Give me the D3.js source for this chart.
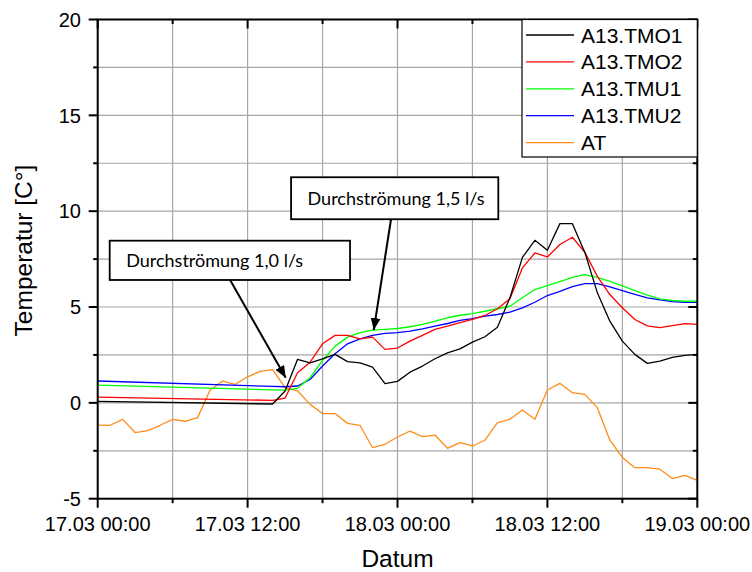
<!DOCTYPE html>
<html>
<head>
<meta charset="utf-8">
<script src="https://cdn.jsdelivr.net/npm/d3@7"></script>
<style>
  html, body { margin: 0; padding: 0; background: #fff; }
  svg { display: block; }
</style>
</head>
<body>
<svg id="chart" width="752" height="572"></svg>
<script>
// Hours since 17.03 00:00
const sensorHours = [0, 14, 15, 16, 17, 18, 19, 20, 21, 22, 23, 24, 25, 26, 27, 28, 29, 30, 31,
  32, 33, 34, 35, 36, 37, 38, 39, 40, 41, 42, 43, 44, 45, 46, 47, 48];
const atHours = [0, 1, 2, 3, 4, 5, 6, 7, 8, 9, 10, 11, 12, 13, 14, 15, 16, 17, 18, 19, 20, 21, 22, 23,
  24, 25, 26, 27, 28, 29, 30, 31, 32, 33, 34, 35, 36, 37, 38, 39, 40, 41, 42, 43, 44, 45, 46, 47, 48];

// Temperatures [°C]
const tmo1 = [0.08, -0.06, 0.62, 2.27, 2.09, 2.30, 2.53, 2.15, 2.09, 1.87, 1.00, 1.12, 1.60, 1.92, 2.30,
  2.61, 2.82, 3.17, 3.45, 3.95, 5.48, 7.59, 8.48, 7.96, 9.35, 9.35, 7.85, 5.74, 4.26, 3.22, 2.53, 2.06,
  2.18, 2.37, 2.48, 2.53];
const tmo2 = [0.30, 0.13, 0.25, 1.57, 2.12, 3.08, 3.52, 3.52, 3.34, 3.43, 2.79, 2.86, 3.22, 3.52, 3.83,
  4.00, 4.18, 4.35, 4.56, 4.91, 5.43, 7.04, 7.82, 7.61, 8.26, 8.64, 7.85, 6.60, 5.65, 4.96, 4.35, 4.02,
  3.92, 4.03, 4.13, 4.09];
const tmu1 = [0.93, 0.68, 0.66, 0.76, 1.31, 2.21, 2.96, 3.43, 3.66, 3.79, 3.83, 3.88, 3.97, 4.09, 4.26,
  4.44, 4.57, 4.66, 4.78, 4.91, 5.04, 5.48, 5.91, 6.12, 6.32, 6.55, 6.69, 6.55, 6.34, 6.10, 5.85, 5.62,
  5.43, 5.35, 5.30, 5.30];
const tmu2 = [1.14, 0.86, 0.84, 0.88, 1.22, 1.92, 2.56, 3.08, 3.34, 3.52, 3.62, 3.66, 3.74, 3.86, 4.00,
  4.14, 4.30, 4.40, 4.52, 4.61, 4.73, 4.96, 5.25, 5.60, 5.82, 6.06, 6.22, 6.22, 6.05, 5.85, 5.66, 5.48,
  5.37, 5.28, 5.25, 5.25];
const at = [-1.16, -1.17, -0.86, -1.55, -1.45, -1.17, -0.86, -0.96, -0.77, 0.67, 1.14, 0.96, 1.36, 1.64,
  1.73, 0.79, 0.63, -0.08, -0.56, -0.56, -1.07, -1.17, -2.34, -2.16, -1.78, -1.47, -1.76, -1.68, -2.37,
  -2.07, -2.25, -1.95, -1.03, -0.86, -0.37, -0.86, 0.67, 1.02, 0.53, 0.44, -0.25, -1.95, -2.85, -3.38,
  -3.38, -3.46, -3.95, -3.78, -4.04];

const seriesNames = ["A13.TMO1", "A13.TMO2", "A13.TMU1", "A13.TMU2", "AT"];
const seriesColors = ["#000000", "#ff0000", "#00ff00", "#0000ff", "#ff8c1a"];

// Axis ticks
const xMajorTicks = [0, 12, 24, 36, 48];
const xTickLabels = ["17.03 00:00", "17.03 12:00", "18.03 00:00", "18.03 12:00", "19.03 00:00"];
const xMinorTicks = [6, 18, 30, 42];
const yMajorTicks = [-5, 0, 5, 10, 15, 20];
const yMinorTicks = [-2.5, 2.5, 7.5, 12.5, 17.5];

// Callouts: box corners (hours, °C) and arrow from the box to the target point
const callouts = [
  { text: "Durchströmung 1,0 l/s", box: [0.96, 8.46, 20.2, 6.41], from: [10.6, 6.41], to: [15.05, 1.31] },
  { text: "Durchströmung 1,5 l/s", box: [15.48, 11.77, 32.07, 9.58], from: [23.48, 9.58], to: [22.1, 3.80] }
];

const svg = d3.select("#chart");
const L = 97.7, R = 697.3, T = 19.5, B = 498.7;
const x = d3.scaleLinear().domain([0, 48]).range([L, R]);
const y = d3.scaleLinear().domain([-5, 20]).range([B, T]);

const fontAxis = "'Liberation Sans', Arial, sans-serif";

// Grid
const grid = svg.append("g");
grid.selectAll("line.h").data(d3.merge([yMajorTicks, yMinorTicks]).filter(v => v > -5 && v < 20))
  .enter().append("line")
  .attr("x1", L).attr("x2", R).attr("y1", d => y(d)).attr("y2", d => y(d))
  .attr("stroke", "#a6a6a6").attr("stroke-width", 1.2);
grid.selectAll("line.v").data(d3.merge([xMajorTicks, xMinorTicks]).filter(v => v > 0 && v < 48))
  .enter().append("line")
  .attr("x1", d => x(d)).attr("x2", d => x(d)).attr("y1", T).attr("y2", B)
  .attr("stroke", "#a6a6a6").attr("stroke-width", 1.2);

// Series
const line = d3.line().x(d => x(d[0])).y(d => y(d[1]));
const seriesData = [
  d3.zip(sensorHours, tmo1),
  d3.zip(sensorHours, tmo2),
  d3.zip(sensorHours, tmu1),
  d3.zip(sensorHours, tmu2),
  d3.zip(atHours, at)
];
// AT underneath, sensor lines on top, black last
const drawOrder = [4, 3, 2, 1, 0];
const plot = svg.append("g");
drawOrder.forEach(i => {
  plot.append("path").datum(seriesData[i])
    .attr("d", line).attr("fill", "none")
    .attr("stroke", seriesColors[i]).attr("stroke-width", 1.3)
    .attr("stroke-linejoin", "round");
});

// Axes: outward ticks on left/bottom, inward ticks on top/right
const axes = svg.append("g").attr("stroke", "#000");
const tick = (x1, y1, x2, y2, w) => axes.append("line")
  .attr("x1", x1).attr("y1", y1).attr("x2", x2).attr("y2", y2).attr("stroke-width", w);
xMajorTicks.forEach(h => { tick(x(h), B, x(h), B + 9, 2); tick(x(h), T, x(h), T + 9, 2); });
xMinorTicks.forEach(h => { tick(x(h), B, x(h), B + 4.5, 2); tick(x(h), T, x(h), T + 4.5, 2); });
yMajorTicks.forEach(v => { tick(L - 9, y(v), L, y(v), 2); tick(R - 9, y(v), R, y(v), 2); });
yMinorTicks.forEach(v => { tick(L - 4.5, y(v), L, y(v), 2); tick(R - 4.5, y(v), R, y(v), 2); });
axes.append("rect").attr("x", L).attr("y", T).attr("width", R - L).attr("height", B - T)
  .attr("fill", "none").attr("stroke-width", 2);

// Tick labels
svg.append("g").selectAll("text").data(xMajorTicks).enter().append("text")
  .attr("x", d => x(d)).attr("y", 531).attr("text-anchor", "middle")
  .attr("font-family", fontAxis).attr("font-size", 20).attr("fill", "#000")
  .text((d, i) => xTickLabels[i]);
svg.append("g").selectAll("text").data(yMajorTicks).enter().append("text")
  .attr("x", 81).attr("y", d => y(d)).attr("dy", "0.36em").attr("text-anchor", "end")
  .attr("font-family", fontAxis).attr("font-size", 20).attr("fill", "#000")
  .text(d => d);

// Axis titles
svg.append("text").attr("x", (L + R) / 2).attr("y", 567).attr("text-anchor", "middle")
  .attr("font-family", fontAxis).attr("font-size", 24.5).text("Datum");
svg.append("text").attr("transform", `translate(32,250.5) rotate(-90)`).attr("text-anchor", "middle")
  .attr("font-family", fontAxis).attr("font-size", 24.5).text("Temperatur [C°]");

// Legend
const legend = svg.append("g");
legend.append("rect").attr("x", 522).attr("y", T).attr("width", R - 522).attr("height", 157 - T)
  .attr("fill", "#fff").attr("stroke", "#000").attr("stroke-width", 1.2);
seriesNames.forEach((name, i) => {
  const yy = 35 + i * 26.9;
  legend.append("line").attr("x1", 526).attr("x2", 574).attr("y1", yy).attr("y2", yy)
    .attr("stroke", seriesColors[i]).attr("stroke-width", 1.3);
  legend.append("text").attr("x", 581).attr("y", yy).attr("dy", "0.36em")
    .attr("font-family", fontAxis).attr("font-size", 21).text(name);
});

// Callouts
const defs = svg.append("defs");
defs.append("marker").attr("id", "head").attr("viewBox", "0 0 12 10")
  .attr("refX", 12).attr("refY", 5).attr("markerWidth", 12).attr("markerHeight", 10)
  .attr("markerUnits", "userSpaceOnUse").attr("orient", "auto")
  .append("path").attr("d", "M0,0 L12,5 L0,10 Z").attr("fill", "#000");
const notes = svg.append("g");
callouts.forEach(c => {
  notes.append("line")
    .attr("x1", x(c.from[0])).attr("y1", y(c.from[1]))
    .attr("x2", x(c.to[0])).attr("y2", y(c.to[1]))
    .attr("stroke", "#000").attr("stroke-width", 2).attr("marker-end", "url(#head)");
  const bx = x(c.box[0]), by = y(c.box[1]), bw = x(c.box[2]) - bx, bh = y(c.box[3]) - by;
  notes.append("rect").attr("x", bx).attr("y", by).attr("width", bw).attr("height", bh)
    .attr("fill", "#fff").attr("stroke", "#000").attr("stroke-width", 1.8);
  notes.append("text").attr("x", bx + 16.5).attr("y", by + bh / 2).attr("dy", "0.35em")
    .attr("font-family", "Lato, 'Open Sans', sans-serif").attr("font-size", 18).text(c.text);
});
</script>
</body>
</html>
